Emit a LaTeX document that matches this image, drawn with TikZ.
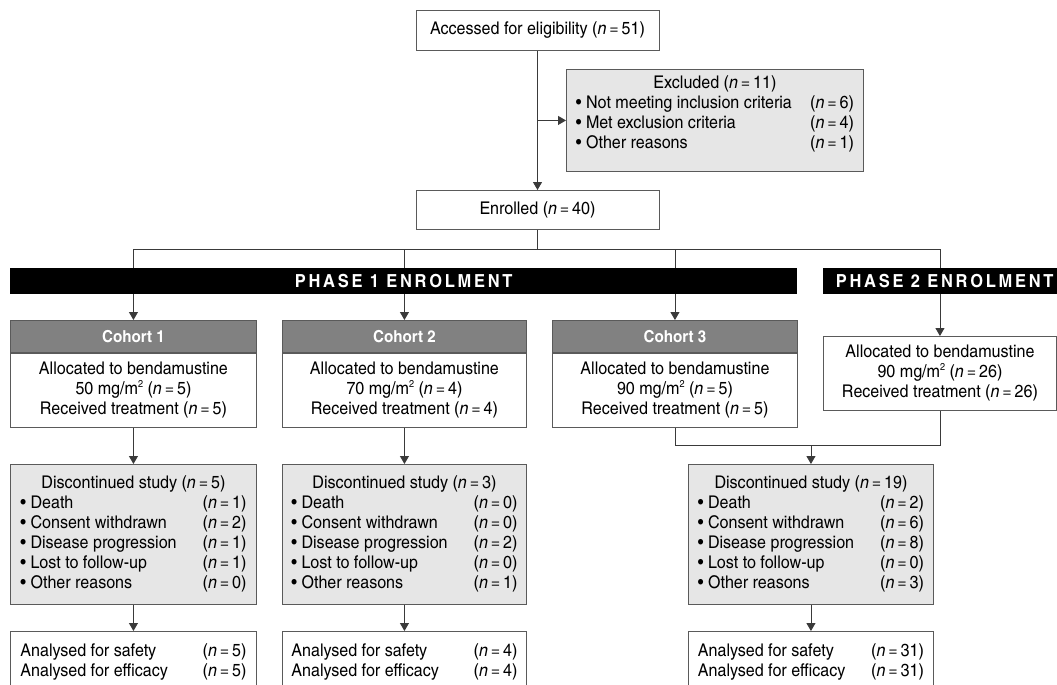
\documentclass[tikz,border=0pt]{standalone}
\usepackage{fontspec}
\setmainfont{TeX Gyre Heros Cn}[FakeStretch=1.12]
\usetikzlibrary{positioning,calc,arrows.meta}

\definecolor{linegray}{HTML}{3A3A3A}
\definecolor{edgegray}{HTML}{5A5A5A}
\definecolor{fillgray}{HTML}{E6E6E6}
\definecolor{headgray}{HTML}{818181}

\newcommand{\nval}[1]{(\textit{n}\,=\,#1)}
\newcommand{\msq}{mg/m\raisebox{0.42em}{\fontsize{10}{10}\selectfont 2}}
\newcommand{\bodyfont}{\fontsize{17.5}{20}\selectfont}

\tikzset{
  box/.style={draw=edgegray, line width=0.9pt, inner sep=0pt, align=center, font=\bodyfont},
  whitebox/.style={box, fill=white},
  greybox/.style={box, fill=fillgray},
  headbox/.style={box, fill=headgray, text=white, font=\fontsize{16.5}{18}\selectfont\bfseries},
  banner/.style={fill=black, inner sep=0pt, minimum height=26pt, text=white,
    font=\fontsize{18}{18}\selectfont\bfseries\addfontfeature{LetterSpace=15}},
  line/.style={draw=linegray, line width=0.9pt},
  arrow/.style={line, -{Triangle[width=9pt,length=8pt]}}
}

\begin{document}
\begin{tikzpicture}[x=1pt,y=-1pt]
    \clip (0,0) rectangle (1057,685);
    \fill[white] (0,0) rectangle (1057,685);

    % screening
    \node[whitebox, anchor=north, minimum width=243pt, minimum height=40pt] (access) at (537.5,10) {Accessed for eligibility \nval{51}};
    \node[greybox, anchor=north west, minimum width=297pt, minimum height=102pt] (excl) at (566,69) {%
      \begin{tabular*}{278pt}{@{}l@{\extracolsep{\fill}}r@{}}
        \multicolumn{2}{c}{Excluded \nval{11}}\\
        \textbullet\ Not meeting inclusion criteria & \nval{6}\\
        \textbullet\ Met exclusion criteria & \nval{4}\\
        \textbullet\ Other reasons & \nval{1}\\[12pt]
      \end{tabular*}};
    \node[whitebox, anchor=north, minimum width=243pt, minimum height=39pt] (enrol) at (537.5,190) {Enrolled \nval{40}};

    % cohorts
    \node[headbox, anchor=north west, minimum width=246pt, minimum height=32pt] (c1head) at (10,320) {Cohort 1};
    \node[whitebox, below=0pt of c1head, minimum width=246pt, minimum height=74pt] (c1body) {Allocated to bendamustine\\50 \msq{} \nval{5}\\Received treatment \nval{5}};
    \node[headbox, anchor=north west, minimum width=244pt, minimum height=32pt] (c2head) at (282,320) {Cohort 2};
    \node[whitebox, below=0pt of c2head, minimum width=244pt, minimum height=74pt] (c2body) {Allocated to bendamustine\\70 \msq{} \nval{4}\\Received treatment \nval{4}};
    \node[headbox, anchor=north west, minimum width=245pt, minimum height=32pt] (c3head) at (552,320) {Cohort 3};
    \node[whitebox, below=0pt of c3head, minimum width=245pt, minimum height=74pt] (c3body) {Allocated to bendamustine\\90 \msq{} \nval{5}\\Received treatment \nval{5}};
    \node[whitebox, anchor=north west, minimum width=233pt, minimum height=74pt] (p2alloc) at (823,336) {Allocated to bendamustine\\90 \msq{} \nval{26}\\Received treatment \nval{26}};

    % discontinued
    \node[greybox, anchor=north west, minimum width=246pt, minimum height=140pt] (d1) at (10,464) {%
      \begin{tabular*}{226pt}{@{}l@{\extracolsep{\fill}}r@{}}
        \multicolumn{2}{c}{Discontinued study \nval{5}}\\
        \textbullet\ Death & \nval{1}\\
        \textbullet\ Consent withdrawn & \nval{2}\\
        \textbullet\ Disease progression & \nval{1}\\
        \textbullet\ Lost to follow-up & \nval{1}\\
        \textbullet\ Other reasons & \nval{0}
      \end{tabular*}};
    \node[greybox, anchor=north west, minimum width=244pt, minimum height=140pt] (d2) at (282,464) {%
      \begin{tabular*}{226pt}{@{}l@{\extracolsep{\fill}}r@{}}
        \multicolumn{2}{c}{Discontinued study \nval{3}}\\
        \textbullet\ Death & \nval{0}\\
        \textbullet\ Consent withdrawn & \nval{0}\\
        \textbullet\ Disease progression & \nval{2}\\
        \textbullet\ Lost to follow-up & \nval{0}\\
        \textbullet\ Other reasons & \nval{1}
      \end{tabular*}};
    \node[greybox, anchor=north west, minimum width=245pt, minimum height=140pt] (d3) at (688,464) {%
      \begin{tabular*}{226pt}{@{}l@{\extracolsep{\fill}}r@{}}
        \multicolumn{2}{c}{Discontinued study \nval{19}}\\
        \textbullet\ Death & \nval{2}\\
        \textbullet\ Consent withdrawn & \nval{6}\\
        \textbullet\ Disease progression & \nval{8}\\
        \textbullet\ Lost to follow-up & \nval{0}\\
        \textbullet\ Other reasons & \nval{3}
      \end{tabular*}};

    % analysed
    \node[whitebox, anchor=north west, minimum width=246pt, minimum height=62pt] (a1) at (10,631) {%
      \begin{tabular*}{226pt}{@{}l@{\extracolsep{\fill}}r@{}}
        Analysed for safety & \nval{5}\\
        Analysed for efficacy & \nval{5}
      \end{tabular*}};
    \node[whitebox, anchor=north west, minimum width=244pt, minimum height=62pt] (a2) at (282,631) {%
      \begin{tabular*}{226pt}{@{}l@{\extracolsep{\fill}}r@{}}
        Analysed for safety & \nval{4}\\
        Analysed for efficacy & \nval{4}
      \end{tabular*}};
    \node[whitebox, anchor=north west, minimum width=245pt, minimum height=62pt] (a3) at (688,631) {%
      \begin{tabular*}{226pt}{@{}l@{\extracolsep{\fill}}r@{}}
        Analysed for safety & \nval{31}\\
        Analysed for efficacy & \nval{31}
      \end{tabular*}};

    % connectors
    \coordinate (split) at (537.5,249);
    \coordinate (join) at (d3.north |- 0,445);
    \draw[arrow] (access) -- (enrol);
    \draw[arrow] (access.south |- excl.west) -- (excl.west);
    \draw[line] (enrol) -- (split);
    \draw[line] (c1head.north |- split) -- (p2alloc.north |- split);
    \draw[arrow] (c1head.north |- split) -- (c1head.north);
    \draw[arrow] (c2head.north |- split) -- (c2head.north);
    \draw[arrow] (c3head.north |- split) -- (c3head.north);
    \draw[arrow] (p2alloc.north |- split) -- (p2alloc.north);
    \draw[arrow] (c1body) -- (d1);
    \draw[arrow] (c2body) -- (d2);
    \draw[line] (c3body.south) -- (c3body.south |- join) -- (p2alloc.south |- join) -- (p2alloc.south);
    \draw[arrow] (join) -- (d3.north);
    \draw[arrow] (d1) -- (a1);
    \draw[arrow] (d2) -- (a2);
    \draw[arrow] (d3) -- (a3);

    % phase banners
    \node[banner, anchor=north west, minimum width=787pt] (ph1) at (10,268) {PHASE 1 ENROLMENT};
    \node[banner, anchor=north west, minimum width=243pt] (ph2) at (823,268) {PHASE 2 ENROLMENT};
\end{tikzpicture}
\end{document}
